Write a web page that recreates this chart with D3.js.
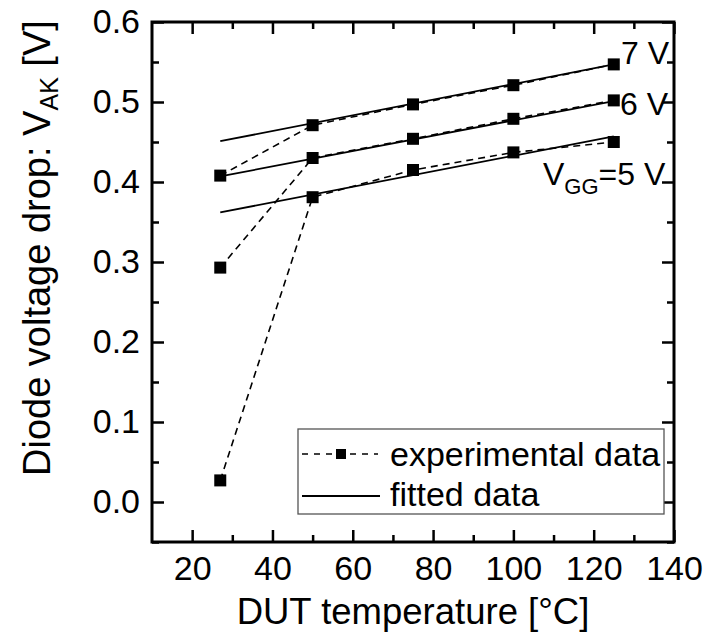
<!DOCTYPE html>
<html>
<head>
<meta charset="utf-8">
<script src="https://cdn.jsdelivr.net/npm/d3@7/dist/d3.min.js"></script>
<style>
  html, body { margin: 0; padding: 0; background: #fff; }
  svg { display: block; }
  text { font-family: "Liberation Sans", Arial, sans-serif; fill: #000; }
</style>
</head>
<body>
<svg id="chart" width="713" height="633"></svg>
<script>
// DUT temperature (°C) at which the diode drop was measured
const temps = [27, 50, 75, 100, 125];

// measured diode voltage drop V_AK (V) per gate voltage
const exp7 = [0.408, 0.471, 0.497, 0.521, 0.547];
const exp6 = [0.293, 0.430, 0.454, 0.479, 0.502];
const exp5 = [0.027, 0.381, 0.415, 0.437, 0.450];

// linear fits: values at the ends of the fitted temperature range
const fitRange = [27, 125];
const fit7 = [0.451, 0.547];
const fit6 = [0.407, 0.501];
const fit5 = [0.362, 0.457];

// axis ticks
const xMajor = [20, 40, 60, 80, 100, 120, 140];
const xMinor = [30, 50, 70, 90, 110, 130];
const yMajor = [0.0, 0.1, 0.2, 0.3, 0.4, 0.5, 0.6];
const yMinor = [-0.05, 0.05, 0.15, 0.25, 0.35, 0.45, 0.55];

const legendLabels = ["experimental data", "fitted data"];

const svg = d3.select("#chart");
const plotL = 152, plotR = 674, plotT = 22, plotB = 542;

const x = d3.scaleLinear().domain([10, 140]).range([plotL, plotR]);
const y = d3.scaleLinear().domain([-0.05, 0.6]).range([plotB, plotT]);

const tickFont = 34;

// ----- axes (ticks point inward, mirrored on all four sides) -----
function styleAxis(g) {
  g.select(".domain").remove();
  g.selectAll(".tick line").attr("stroke", "#000").attr("stroke-width", 2.5);
}
function styleLabels(g) {
  g.selectAll("text").attr("font-size", tickFont)
    .style("font-family", "'Liberation Sans', Arial, sans-serif").attr("fill", "#000");
}

svg.append("g").attr("transform", `translate(0,${plotB})`)
  .call(d3.axisBottom(x).tickValues(xMajor).tickSize(-12).tickPadding(14).tickFormat(d3.format("d")))
  .call(styleAxis).call(styleLabels);
svg.append("g").attr("transform", `translate(0,${plotB})`)
  .call(d3.axisBottom(x).tickValues(xMinor).tickSize(-7).tickFormat(""))
  .call(styleAxis);
svg.append("g").attr("transform", `translate(0,${plotT})`)
  .call(d3.axisTop(x).tickValues(xMajor).tickSize(-12).tickFormat(""))
  .call(styleAxis);
svg.append("g").attr("transform", `translate(0,${plotT})`)
  .call(d3.axisTop(x).tickValues(xMinor).tickSize(-7).tickFormat(""))
  .call(styleAxis);

svg.append("g").attr("transform", `translate(${plotL},0)`)
  .call(d3.axisLeft(y).tickValues(yMajor).tickSize(-12).tickPadding(12).tickFormat(d3.format(".1f")))
  .call(styleAxis).call(styleLabels);
svg.append("g").attr("transform", `translate(${plotL},0)`)
  .call(d3.axisLeft(y).tickValues(yMinor).tickSize(-7).tickFormat(""))
  .call(styleAxis);
svg.append("g").attr("transform", `translate(${plotR},0)`)
  .call(d3.axisRight(y).tickValues(yMajor).tickSize(-12).tickFormat(""))
  .call(styleAxis);
svg.append("g").attr("transform", `translate(${plotR},0)`)
  .call(d3.axisRight(y).tickValues(yMinor).tickSize(-7).tickFormat(""))
  .call(styleAxis);

// plot frame
svg.append("rect")
  .attr("x", plotL).attr("y", plotT)
  .attr("width", plotR - plotL).attr("height", plotB - plotT)
  .attr("fill", "none").attr("stroke", "#000").attr("stroke-width", 3);

// ----- fitted lines -----
const line = d3.line().x(d => x(d[0])).y(d => y(d[1]));
[fit7, fit6, fit5].forEach(f => {
  svg.append("path")
    .attr("d", line(fitRange.map((t, i) => [t, f[i]])))
    .attr("fill", "none").attr("stroke", "#000").attr("stroke-width", 1.8);
});

// ----- experimental data: dashed lines with square markers -----
const sq = 12;
[exp7, exp6, exp5].forEach(s => {
  const pts = temps.map((t, i) => [t, s[i]]);
  svg.append("path")
    .attr("d", line(pts))
    .attr("fill", "none").attr("stroke", "#000").attr("stroke-width", 1.6)
    .attr("stroke-dasharray", "7,5");
  svg.append("g").selectAll("rect").data(pts).join("rect")
    .attr("x", d => x(d[0]) - sq / 2).attr("y", d => y(d[1]) - sq / 2)
    .attr("width", sq).attr("height", sq).attr("fill", "#000");
});

// ----- gate-voltage labels -----
svg.append("text").attr("x", 621).attr("y", 64).attr("font-size", 32).text("7 V");
svg.append("text").attr("x", 620).attr("y", 115).attr("font-size", 32).text("6 V");
const vgg = svg.append("text").attr("x", 543).attr("y", 185).attr("font-size", 32);
vgg.append("tspan").text("V");
vgg.append("tspan").attr("font-size", 22).attr("dy", 9).text("GG");
vgg.append("tspan").attr("dy", -9).text("=5 V");

// ----- legend -----
const lg = svg.append("g");
lg.append("rect").attr("x", 298).attr("y", 429).attr("width", 366).attr("height", 85)
  .attr("fill", "#fff").attr("stroke", "#555").attr("stroke-width", 1.3);
lg.append("line").attr("x1", 302).attr("x2", 378).attr("y1", 454).attr("y2", 454)
  .attr("stroke", "#000").attr("stroke-width", 1.6).attr("stroke-dasharray", "6,6");
lg.append("rect").attr("x", 336).attr("y", 449).attr("width", 10).attr("height", 10).attr("fill", "#000");
lg.append("line").attr("x1", 302).attr("x2", 380).attr("y1", 496).attr("y2", 496)
  .attr("stroke", "#000").attr("stroke-width", 1.8);
lg.append("text").attr("x", 390).attr("y", 466).attr("font-size", 34).text(legendLabels[0]);
lg.append("text").attr("x", 390).attr("y", 506).attr("font-size", 34).text(legendLabels[1]);

// ----- axis titles -----
svg.append("text")
  .attr("x", (plotL + plotR) / 2).attr("y", 624)
  .attr("text-anchor", "middle").attr("font-size", 36.5)
  .text("DUT temperature [°C]");

const yt = svg.append("text")
  .attr("transform", "translate(50,476) rotate(-90)")
  .attr("font-size", 38);
yt.append("tspan").text("Diode voltage drop: V");
yt.append("tspan").attr("font-size", 25).attr("dy", 8).text("AK");
yt.append("tspan").attr("dy", -8).text(" [V]");
</script>
</body>
</html>
